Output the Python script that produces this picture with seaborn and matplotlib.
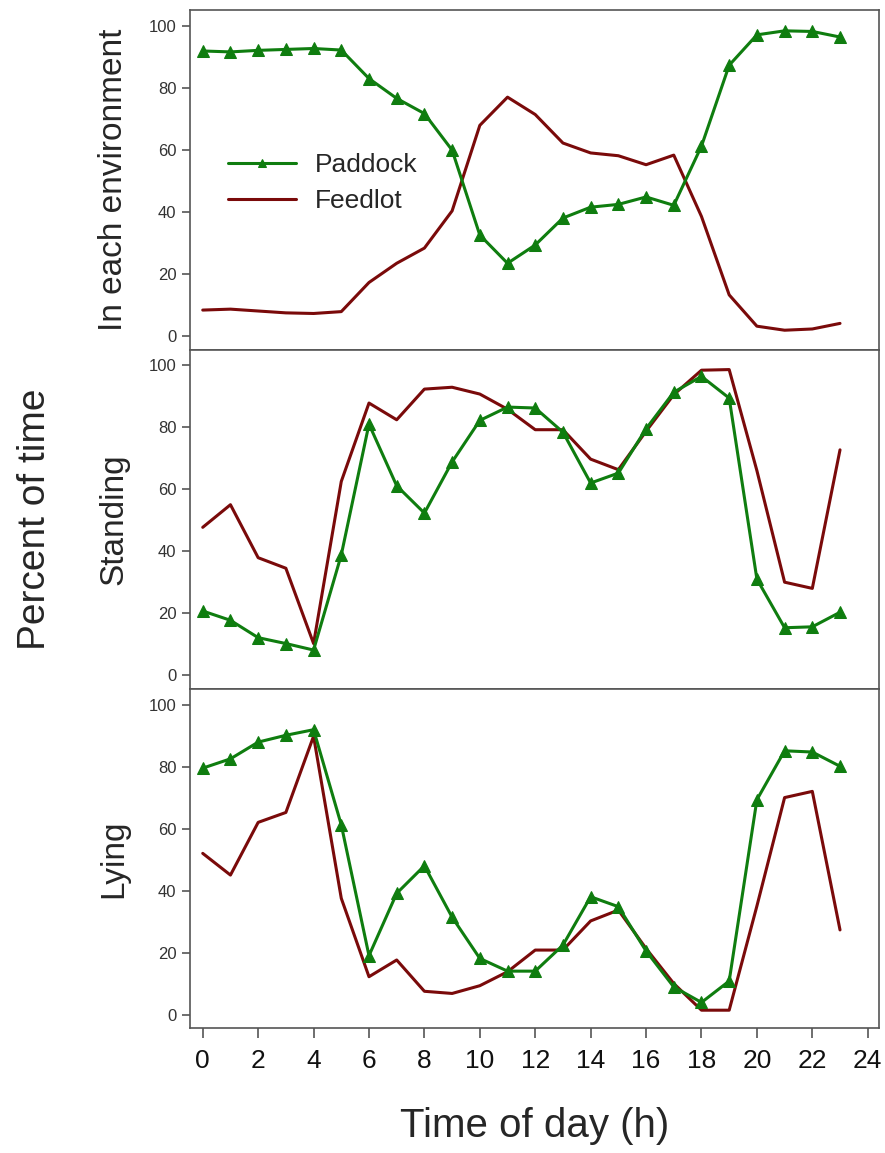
import matplotlib
matplotlib.use('Agg')
import matplotlib.pyplot as plt
import pandas as pd
import seaborn as sns

# hours of the day
hours = list(range(24))

# % of time in each environment
env_paddock = [91.9, 91.6, 92.1, 92.4, 92.7, 92.2, 83.0, 76.6, 71.7, 59.9, 32.5, 23.4,
               29.3, 38.0, 41.5, 42.4, 44.8, 42.1, 61.2, 87.3, 97.1, 98.4, 98.2, 96.4]
env_feedlot = [8.3, 8.6, 8.0, 7.4, 7.2, 7.8, 17.2, 23.4, 28.3, 40.3, 67.9, 77.0,
               71.4, 62.2, 59.0, 58.1, 55.2, 58.3, 38.5, 13.2, 3.1, 1.8, 2.2, 4.0]

# % of time standing
stand_paddock = [20.7, 17.7, 12.1, 10.2, 8.1, 38.8, 81.0, 61.1, 52.3, 68.8, 82.2, 86.5,
                 86.2, 78.4, 62.0, 65.2, 79.5, 91.3, 96.4, 89.4, 31.0, 15.3, 15.6, 20.3]
stand_feedlot = [47.7, 55.0, 37.9, 34.5, 10.2, 62.5, 87.8, 82.4, 92.3, 92.9, 90.7, 85.8,
                 79.2, 79.2, 69.7, 66.3, 78.7, 90.5, 98.4, 98.6, 66.0, 30.0, 28.0, 72.7]

# % of time lying
lie_paddock = [79.5, 82.5, 87.9, 90.1, 91.9, 61.2, 19.0, 39.1, 48.0, 31.4, 18.1, 14.0,
               14.0, 22.4, 38.0, 34.8, 20.5, 8.9, 3.9, 10.8, 69.3, 85.1, 84.7, 80.1]
lie_feedlot = [52.0, 45.0, 62.0, 65.2, 89.8, 37.5, 12.2, 17.6, 7.5, 6.8, 9.3, 13.8,
               20.8, 20.8, 30.2, 33.7, 21.3, 10.0, 1.4, 1.4, 35.0, 70.0, 72.0, 27.3]

panel_labels = ['In each environment', 'Standing', 'Lying']
x_ticks = list(range(0, 25, 2))
y_ticks = list(range(0, 101, 20))

GREEN = '#0f7d0f'
RED = '#7a0a0a'

sns.set_style('white')
plt.rcParams['font.family'] = ['Liberation Sans', 'DejaVu Sans']

fig, axes = plt.subplots(3, 1, figsize=(8.85, 11.53), dpi=100, sharex=True)
fig.subplots_adjust(left=0.215, right=0.993, top=0.991, bottom=0.108, hspace=0)

panels = [(env_paddock, env_feedlot), (stand_paddock, stand_feedlot), (lie_paddock, lie_feedlot)]

for ax, (pad, feed), label in zip(axes, panels, panel_labels):
    df = pd.DataFrame({'hour': hours, 'Paddock': pad, 'Feedlot': feed})
    sns.lineplot(data=df, x='hour', y='Feedlot', ax=ax, color=RED, linewidth=2.2,
                 label='Feedlot')
    sns.lineplot(data=df, x='hour', y='Paddock', ax=ax, color=GREEN, linewidth=2.2,
                 marker='^', markersize=8.5, markeredgecolor=GREEN, label='Paddock')
    ax.set_ylim(-4.5, 105)
    ax.set_xlim(-0.45, 24.4)
    ax.set_yticks(y_ticks)
    ax.set_ylabel(label, fontsize=24, labelpad=14)
    ax.set_xlabel('')
    for s in ax.spines.values():
        s.set_color('#555555')
        s.set_linewidth(1.2)
    ax.tick_params(axis='y', left=True, direction='out', length=6, width=1.2,
                   color='#555555', labelsize=12, labelcolor='#333333', pad=4)
    ax.tick_params(axis='x', bottom=False)
    ax.get_legend().remove()

# legend in the top panel
h, l = axes[0].get_legend_handles_labels()
axes[0].legend(h[::-1], l[::-1], loc='upper left', bbox_to_anchor=(0.02, 0.65),
               frameon=False, fontsize=19, handlelength=2.6, markerscale=0.6,
               labelspacing=0.45, handletextpad=0.7)

axes[2].set_xticks(x_ticks)
axes[2].tick_params(axis='x', bottom=True, direction='out', length=7, width=1.2,
                    color='#555555', labelsize=19, labelcolor='#111111', pad=8)
axes[2].set_xlabel('Time of day (h)', fontsize=29, labelpad=24)

fig.text(0.04, 0.55, 'Percent of time', rotation=90, fontsize=28,
         ha='center', va='center')

fig.savefig('out.png', dpi=100)
